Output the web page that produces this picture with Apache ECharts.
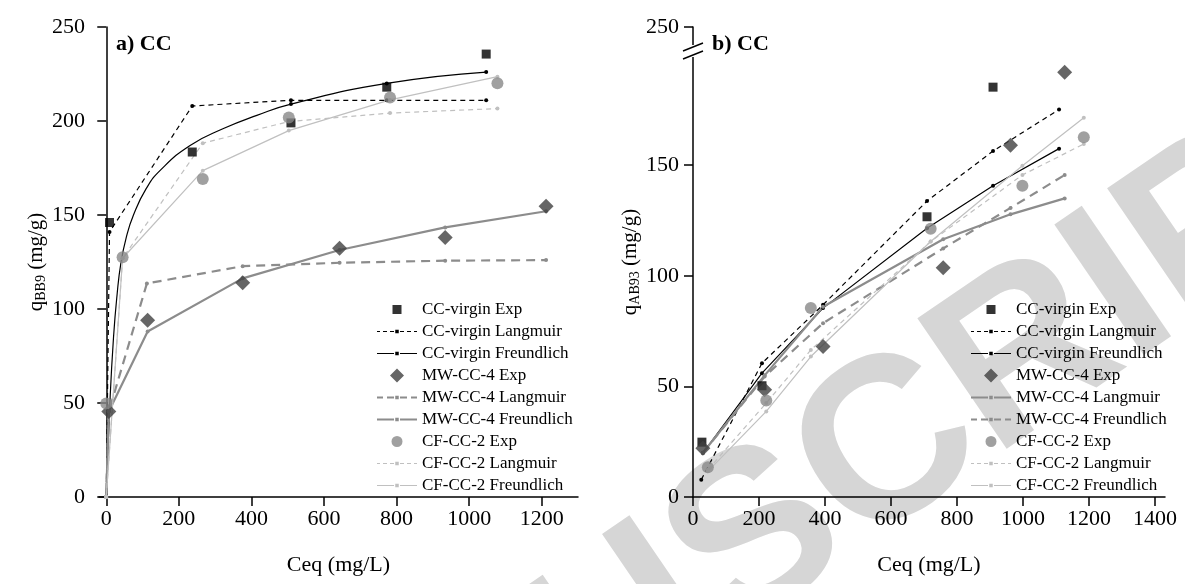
<!DOCTYPE html>
<html>
<head>
<meta charset="utf-8">
<script src="https://cdn.jsdelivr.net/npm/echarts@6/dist/echarts.min.js"></script>
<style>
  html, body { margin: 0; padding: 0; background: #fff; }
  #chart { width: 1185px; height: 584px; }
</style>
</head>
<body>
<div id="chart"></div>
<script>
// panel a) q_BB9 vs Ceq
const aVirginExp = [[9, 146], [237, 183.5], [509, 199], [773, 218], [1047, 235.6]]
const aVirginLang = [[0, 0], [9, 141], [237, 208], [509, 211], [773, 211], [1047, 211]]
const aVirginFreu = [[0, 0], [10, 50], [20, 85], [30, 108], [40, 124], [55, 138], [75, 150], [110, 164], [150, 174], [231, 187], [323, 196], [415, 203], [509, 209], [773, 220], [1047, 226]]
const aMwExp = [[7, 45.5], [114, 94], [376, 114], [643, 132.3], [934, 138], [1212, 154.6]]
const aMwLang = [[0, 0], [7, 45.5], [112, 113.6], [376, 122.8], [643, 124.6], [934, 125.7], [1212, 126]]
const aMwFreu = [[0, 0], [7, 45.5], [114, 88], [376, 116.3], [643, 131.4], [934, 143.4], [1212, 152]]
const aCfExp = [[0, 49.7], [45, 127.5], [266, 169.2], [503, 201.8], [782, 212.5], [1078, 220.1]]
const aCfLang = [[0, 0], [45, 127], [266, 188.2], [503, 199.7], [782, 204.2], [1078, 206.6]]
const aCfFreu = [[0, 0], [45, 127], [266, 173.6], [503, 194.9], [782, 211.2], [1078, 223.6]]

// panel b) q_AB93 vs Ceq
const bVirginExp = [[27, 24.8], [209, 50.3], [709, 126.7], [909, 185.3]]
const bVirginLang = [[25, 7.8], [209, 60.5], [394, 86.9], [709, 133.8], [909, 156.4], [1109, 175.2]]
const bVirginFreu = [[30, 19.9], [209, 56], [394, 85.4], [709, 121.5], [909, 140.7], [1109, 157.5]]
const bMwExp = [[30, 22], [217, 48.5], [394, 68], [758, 103.7], [962, 159], [1126, 192]]
const bMwLang = [[30, 20], [217, 55], [394, 86], [758, 116.5], [962, 127.8], [1126, 135]]
const bMwFreu = [[30, 20], [217, 54.5], [394, 78.6], [758, 112.4], [962, 130.7], [1126, 145.6]]
const bCfExp = [[45, 13.5], [222, 43.6], [357, 85.4], [720, 121.3], [998, 140.7], [1184, 162.6]]
const bCfLang = [[45, 12.3], [222, 42.5], [357, 66.5], [720, 115.5], [998, 145.6], [1184, 159.6]]
const bCfFreu = [[45, 11.6], [222, 38.7], [357, 63.5], [720, 115.5], [998, 149.8], [1184, 171.5]]

const aXTicks = [0, 200, 400, 600, 800, 1000, 1200]
const bXTicks = [0, 200, 400, 600, 800, 1000, 1200, 1400]
const aYTicks = [0, 50, 100, 150, 200, 250]
const bYTicks = [0, 50, 100, 150, 212.5] // top tick sits above the axis break, labelled 250

const names = [
  'CC-virgin Exp', 'CC-virgin Langmuir', 'CC-virgin Freundlich',
  'MW-CC-4 Exp', 'MW-CC-4 Langmuir', 'MW-CC-4 Freundlich',
  'CF-CC-2 Exp', 'CF-CC-2 Langmuir', 'CF-CC-2 Freundlich'
]

const font = 'Liberation Serif'
const cBlack = '#000000'
const cDark = '#404040'
const cMid = '#888888'
const cLine = '#8c8c8c'
const cLight = '#c0c0c0'

function exp(name, idx, data, symbol, size, color) {
  return {
    name: name, type: 'scatter', xAxisIndex: idx, yAxisIndex: idx,
    data: data, symbol: symbol, symbolSize: size,
    itemStyle: { color: color }, z: 5
  }
}

function fit(name, idx, data, color, width, dash, dot, opts) {
  let s = {
    name: name, type: 'line', xAxisIndex: idx, yAxisIndex: idx,
    data: data, symbol: 'circle', symbolSize: dot, showSymbol: true,
    itemStyle: { color: color },
    lineStyle: { color: color, width: width, type: dash },
    z: 3
  }
  return Object.assign(s, opts || {})
}

// smooth curve: markers only where the model was evaluated at an Exp point
const marked = aVirginExp.map(p => p[0])
const aVirginFreuData = aVirginFreu.map(p => {
  let hit = marked.some(x => Math.abs(x - p[0]) < 3) && p[0] > 300
  return hit ? { value: p } : { value: p, symbol: 'none' }
})

// legend icons, drawn in a 40x14 box (corner anchors keep the box size)
const box = 'M0,0L0,0Z M40,14L40,14Z '
function rect(x0, x1, y0, y1) {
  return 'M' + x0 + ',' + y0 + 'H' + x1 + 'V' + y1 + 'H' + x0 + 'Z '
}
function lineIcon(thick, dash, gap, dot) {
  let y0 = 7 - thick / 2, y1 = 7 + thick / 2
  let p = box
  if (!dash) {
    p += rect(0, 17, y0, y1) + rect(23, 40, y0, y1)
  } else {
    for (let x = 17; x > 0; x -= dash + gap) p += rect(Math.max(0, x - dash), x, y0, y1)
    for (let x = 23; x < 40; x += dash + gap) p += rect(x, Math.min(40, x + dash), y0, y1)
  }
  p += rect(20 - dot / 2, 20 + dot / 2, 7 - dot / 2, 7 + dot / 2)
  return 'path://' + p
}
const iconSquare = 'path://' + box + rect(15.5, 24.5, 2.5, 11.5)
const iconDiamond = 'path://' + box + 'M20,0L27,7L20,14L13,7Z'
const iconCircle = 'path://' + box + 'M25.5,7A5.5,5.5 0 1 1 14.5,7A5.5,5.5 0 1 1 25.5,7Z'

function xAxis(idx, min, max, ticks) {
  return {
    gridIndex: idx, type: 'value', min: min, max: max,
    name: 'Ceq (mg/L)', nameLocation: 'middle', nameGap: 57,
    nameTextStyle: { fontFamily: font, fontSize: 22, color: '#000' },
    axisLine: { onZero: false, lineStyle: { color: '#000', width: 1.5 } },
    axisTick: { customValues: ticks, length: 9, lineStyle: { color: '#000', width: 1.5 } },
    axisLabel: { customValues: ticks, fontFamily: font, fontSize: 22, color: '#000', margin: 11, formatter: v => String(v) },
    splitLine: { show: false }
  }
}

function yAxis(idx, max, ticks, sub, fmt) {
  return {
    gridIndex: idx, type: 'value', min: 0, max: max,
    name: '{q|q}{s|' + sub + '}{q| (mg/g)}', nameLocation: 'middle', nameGap: 50,
    nameTextStyle: {
      rich: {
        q: { fontFamily: font, fontSize: 21, color: '#000' },
        s: { fontFamily: font, fontSize: 14, color: '#000', padding: [9, 0, 0, 0] }
      }
    },
    axisLine: { show: true, lineStyle: { color: '#000', width: 1.5 } },
    axisTick: { customValues: ticks, length: 9, lineStyle: { color: '#000', width: 1.5 } },
    axisLabel: { customValues: ticks, fontFamily: font, fontSize: 22, color: '#000', margin: 14, formatter: fmt || (v => String(v)) },
    splitLine: { show: false }
  }
}

function legend(left, idx) {
  let mwA = lineIcon(2.2, 7, 4, 3.5), mwB = lineIcon(2.2, 0, 0, 3.5)
  let icons = [
    iconSquare, lineIcon(1.2, 4, 3, 3.5), lineIcon(1.2, 0, 0, 3.5),
    iconDiamond, idx === 0 ? mwA : mwB, idx === 0 ? mwB : mwA,
    iconCircle, lineIcon(1.2, 4, 3, 3.5), lineIcon(1.2, 0, 0, 3.5)
  ]
  return {
    orient: 'vertical', left: left, top: 296,
    itemWidth: 40, itemHeight: 14, itemGap: 5, symbolKeepAspect: true,
    itemStyle: { borderWidth: 0 },
    textStyle: { fontFamily: font, fontSize: 17, color: '#000', lineHeight: 17 },
    data: names.map((n, i) => ({ name: n, icon: icons[i] })),
    selectedMode: false
  }
}

let myChart = echarts.init(document.getElementById('chart'))
let option = {
  animation: false,
  backgroundColor: '#fff',
  grid: [
    { left: 99, top: 27, width: 479, height: 470 },
    { left: 693, top: 27, width: 472, height: 470 }
  ],
  xAxis: [xAxis(0, -20, 1300, aXTicks), xAxis(1, 0, 1430, bXTicks)],
  yAxis: [
    yAxis(0, 250, aYTicks, 'BB9'),
    yAxis(1, 212.5, bYTicks, 'AB93', v => (v > 200 ? '250' : String(v)))
  ],
  legend: [legend(372, 0), legend(966, 1)],
  graphic: [
    {
      type: 'text', left: 116, top: 33, z: 10,
      style: { text: 'a) CC', font: 'bold 22px "Liberation Serif"', fill: '#000' }
    },
    {
      type: 'text', left: 712, top: 33, z: 10,
      style: { text: 'b) CC', font: 'bold 22px "Liberation Serif"', fill: '#000' }
    },
    // axis break on the panel b y axis
    { type: 'rect', shape: { x: 686, y: 45, width: 14, height: 12 }, style: { fill: '#fff' }, z: 20 },
    { type: 'line', shape: { x1: 683, y1: 51, x2: 703, y2: 43 }, style: { stroke: '#000', lineWidth: 1.5 }, z: 21 },
    { type: 'line', shape: { x1: 683, y1: 59, x2: 703, y2: 51 }, style: { stroke: '#000', lineWidth: 1.5 }, z: 21 },
    // watermark of the source manuscript
    {
      type: 'text', x: 190, y: 1070, rotation: 0.6, z: -1, silent: true,
      style: { text: 'MANUSCRIPT', font: 'bold 230px "Liberation Sans"', fill: '#d6d6d6', verticalAlign: 'bottom', align: 'left' }
    }
  ],
  series: [
    exp(names[0], 0, aVirginExp, 'rect', 9, cBlack),
    fit(names[1], 0, aVirginLang, cBlack, 1.2, [5, 4], 4),
    fit(names[2], 0, aVirginFreuData, cBlack, 1.2, 'solid', 4, { smooth: 0.5 }),
    exp(names[3], 0, aMwExp, 'diamond', 15, cDark),
    fit(names[4], 0, aMwLang, cLine, 2.2, [9, 6], 4),
    fit(names[5], 0, aMwFreu, cLine, 2.2, 'solid', 4),
    exp(names[6], 0, aCfExp, 'circle', 12, cMid),
    fit(names[7], 0, aCfLang, cLight, 1.2, [5, 4], 4),
    fit(names[8], 0, aCfFreu, cLight, 1.2, 'solid', 4),

    exp(names[0], 1, bVirginExp, 'rect', 9, cBlack),
    fit(names[1], 1, bVirginLang, cBlack, 1.2, [5, 4], 4),
    fit(names[2], 1, bVirginFreu, cBlack, 1.2, 'solid', 4),
    exp(names[3], 1, bMwExp, 'diamond', 15, cDark),
    fit(names[4], 1, bMwLang, cLine, 2.2, 'solid', 4),
    fit(names[5], 1, bMwFreu, cLine, 2.2, [9, 6], 4),
    exp(names[6], 1, bCfExp, 'circle', 12, cMid),
    fit(names[7], 1, bCfLang, cLight, 1.2, [5, 4], 4),
    fit(names[8], 1, bCfFreu, cLight, 1.2, 'solid', 4)
  ]
}
myChart.setOption(option)
</script>
</body>
</html>
